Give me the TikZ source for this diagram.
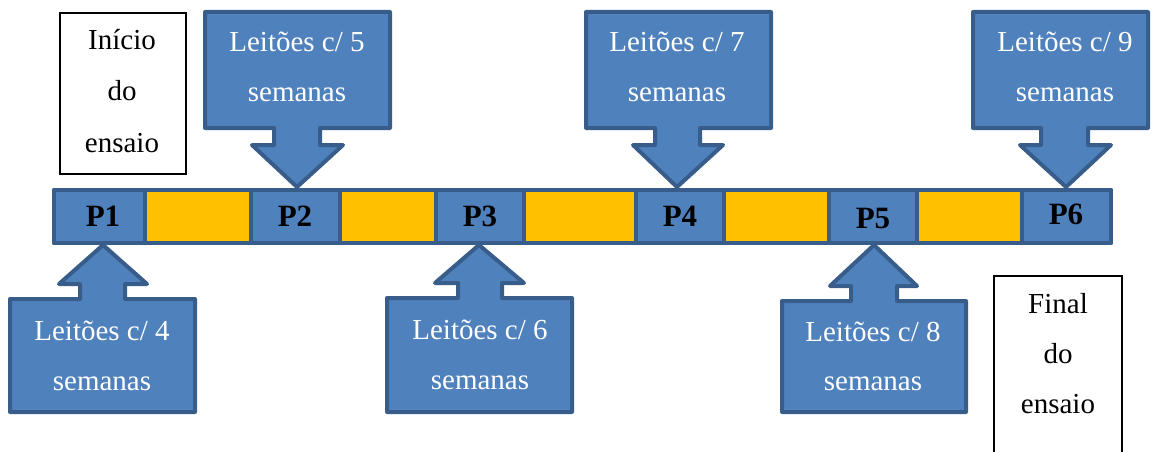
\documentclass[tikz,border=0pt]{standalone}
\usepackage{fontspec}
\setmainfont{Liberation Serif}
\definecolor{cellblue}{HTML}{4F81BD}
\definecolor{edgeblue}{HTML}{385D8A}
\definecolor{gapyellow}{HTML}{FFC000}
\begin{document}
\begin{tikzpicture}[x=1pt,y=-1pt,
  callout/.style={fill=cellblue,draw=edgeblue,line width=4pt,line join=round},
  pcell/.style={fill=cellblue,draw=edgeblue,line width=4pt,line join=round},
  bar/.style={fill=gapyellow,draw=edgeblue,line width=4pt,line join=round},
  wlabel/.style={anchor=base,inner sep=0pt,text=white,font=\fontsize{29}{29}\selectfont},
  plabel/.style={anchor=base,inner sep=0pt,font=\fontsize{31}{31}\selectfont\bfseries},
  blabel/.style={anchor=base,inner sep=0pt,font=\fontsize{29}{29}\selectfont},
  plainbox/.style={draw=black,line width=1.2pt}]
\useasboundingbox (0,0) rectangle (1152,452);

% start / end boxes
\draw[plainbox] (60,13) rectangle (186,174);
\node[blabel] (ini1) at (122,50) {Início};
\node[blabel] (ini2) at (122,101) {do};
\node[blabel] (ini3) at (122,152) {ensaio};

\draw[plainbox] (994,460) -- (994,276) -- (1122,276) -- (1122,460);
\node[blabel] (fin1) at (1058,313) {Final};
\node[blabel] (fin2) at (1058,363) {do};
\node[blabel] (fin3) at (1058,413) {ensaio};

% callouts pointing down (above the bar)
\draw[callout] (205,12) -- (390,12) -- (390,128) -- (320,128) -- (320,145) -- (343,145)
  -- (297,187) -- (252,145) -- (274,145) -- (274,128) -- (205,128) -- cycle;
\draw[callout] (586,12) -- (771,12) -- (771,128) -- (700,128) -- (700,145) -- (723,145)
  -- (677,187) -- (633,145) -- (655,145) -- (655,128) -- (586,128) -- cycle;
\draw[callout] (973,12) -- (1148,12) -- (1148,128) -- (1088,128) -- (1088,145) -- (1111,145)
  -- (1066,187) -- (1020,145) -- (1041,145) -- (1041,128) -- (973,128) -- cycle;

% callouts pointing up (below the bar)
\draw[callout] (10,412) -- (195,412) -- (195,299) -- (125,299) -- (125,284) -- (147,284)
  -- (103,245) -- (59,284) -- (80,284) -- (80,299) -- (10,299) -- cycle;
\draw[callout] (387,412) -- (572,412) -- (572,298) -- (502,298) -- (502,283) -- (524,283)
  -- (479,245) -- (435,283) -- (458,283) -- (458,298) -- (387,298) -- cycle;
\draw[callout] (782,412) -- (966,412) -- (966,301) -- (897,301) -- (897,286) -- (917,286)
  -- (874,245) -- (830,286) -- (851,286) -- (851,301) -- (782,301) -- cycle;

% timeline bar
\draw[bar] (54,190) rectangle (1111,243);
\draw[pcell] (54,190) rectangle (145,243);
\draw[pcell] (251,190) rectangle (340,243);
\draw[pcell] (436,190) rectangle (524,243);
\draw[pcell] (636,190) rectangle (724,243);
\draw[pcell] (829,190) rectangle (917,243);
\draw[pcell] (1022,190) rectangle (1111,243);
\node[plabel] (p1) at (103,226) {P1};
\node[plabel] (p2) at (295,226) {P2};
\node[plabel] (p3) at (480,226) {P3};
\node[plabel] (p4) at (680,226) {P4};
\node[plabel] (p5) at (873,228) {P5};
\node[plabel] (p6) at (1066,224) {P6};

% callout texts
\node[wlabel] (c5a) at (297,52) {Leitões c/ 5};
\node[wlabel] (c5b) at (297,102) {semanas};
\node[wlabel] (c7a) at (677,52) {Leitões c/ 7};
\node[wlabel] (c7b) at (677,102) {semanas};
\node[wlabel] (c9a) at (1065,52) {Leitões c/ 9};
\node[wlabel] (c9b) at (1065,102) {semanas};
\node[wlabel] (c4a) at (102,340) {Leitões c/ 4};
\node[wlabel] (c4b) at (102,390) {semanas};
\node[wlabel] (c6a) at (480,339) {Leitões c/ 6};
\node[wlabel] (c6b) at (480,389) {semanas};
\node[wlabel] (c8a) at (873,341) {Leitões c/ 8};
\node[wlabel] (c8b) at (873,390) {semanas};
\end{tikzpicture}
\end{document}
